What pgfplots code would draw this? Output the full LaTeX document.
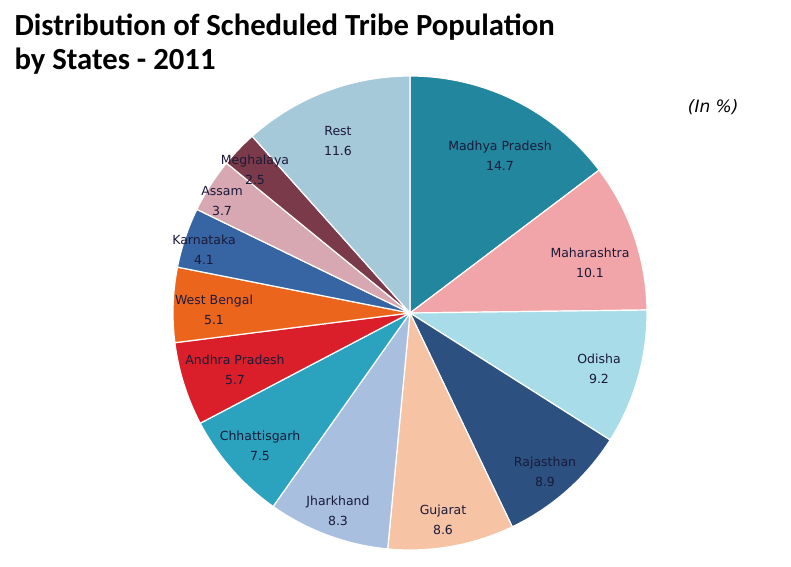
\documentclass[border=0pt]{standalone}
\usepackage{pgfplots}
\pgfplotsset{compat=1.18}
\usepackage{pgfplotstable}
\usepackage{fontspec}
\setmainfont{DejaVu Sans}
\newfontfamily\titlefont{Carlito}

\definecolor{cMP}{HTML}{21869E}
\definecolor{cMH}{HTML}{F2A5A8}
\definecolor{cOD}{HTML}{A8DCE9}
\definecolor{cRJ}{HTML}{2C5080}
\definecolor{cGJ}{HTML}{F6C3A4}
\definecolor{cJH}{HTML}{A8BFDF}
\definecolor{cCG}{HTML}{2BA3BF}
\definecolor{cAP}{HTML}{DB1F2A}
\definecolor{cWB}{HTML}{EB661C}
\definecolor{cKA}{HTML}{3764A2}
\definecolor{cAS}{HTML}{D8A8B2}
\definecolor{cML}{HTML}{7B3A49}
\definecolor{cRE}{HTML}{A6C9D9}
\definecolor{labtext}{HTML}{1A1A3A}

% share of ST population (%), slice colour, label offset from the centre
\pgfplotstableread[col sep=comma]{
state,value,col,dx,dy
Madhya Pradesh,14.7,cMP,90,157
Maharashtra,10.1,cMH,180,50
Odisha,9.2,cOD,189,-56
Rajasthan,8.9,cRJ,135,-159
Gujarat,8.6,cGJ,33,-207
Jharkhand,8.3,cJH,-72,-198
Chhattisgarh,7.5,cCG,-150,-133
Andhra Pradesh,5.7,cAP,-175,-57
West Bengal,5.1,cWB,-196,3
Karnataka,4.1,cKA,-206,63
Assam,3.7,cAS,-188,112
Meghalaya,2.5,cML,-155,143
Rest,11.6,cRE,-72,172
}\piedata

\newcommand\cx{410}
\newcommand\cy{253}
\newcommand\R{237}

% build the slices and labels, clockwise from 12 o'clock
\gdef\pieslices{}
\gdef\pielabels{}
\xdef\cum{90}
\pgfplotstablegetrowsof{\piedata}
\pgfmathtruncatemacro\nrows{\pgfplotsretval-1}
\foreach \i in {0,...,\nrows}{
  \pgfplotstablegetelem{\i}{value}\of\piedata \let\v\pgfplotsretval
  \pgfplotstablegetelem{\i}{col}\of\piedata \let\c\pgfplotsretval
  \pgfplotstablegetelem{\i}{state}\of\piedata \let\s\pgfplotsretval
  \pgfplotstablegetelem{\i}{dx}\of\piedata \let\ldx\pgfplotsretval
  \pgfplotstablegetelem{\i}{dy}\of\piedata \let\ldy\pgfplotsretval
  \pgfmathsetmacro\a{\cum}
  \pgfmathsetmacro\b{\cum-3.6*\v}
  \pgfmathsetmacro\px{\cx+\R*cos(\a)}
  \pgfmathsetmacro\py{\cy+\R*sin(\a)}
  \pgfmathsetmacro\lx{\cx+\ldx}
  \pgfmathsetmacro\ly{\cy+\ldy}
  \xdef\pieslices{\unexpanded\expandafter{\pieslices}%
    \noexpand\fill[\c,draw=white,line width=1.2pt,line join=round]
      (axis cs:\cx,\cy) -- (axis cs:\px,\py)
      arc[start angle=\a,end angle=\b,radius=\R pt] -- cycle;}
  \xdef\pielabels{\unexpanded\expandafter{\pielabels}%
    \noexpand\node[align=center,text=labtext,
      font=\noexpand\fontsize{12.5}{20}\noexpand\selectfont]
      at (axis cs:\lx,\ly) {\s\noexpand\\\v};}
  \xdef\cum{\b}
}

\begin{document}
\begin{tikzpicture}
\begin{axis}[
    width=791pt, height=566pt,
    scale only axis,
    xmin=0, xmax=791, ymin=0, ymax=566,
    hide axis,
    clip=false,
]
\path (rel axis cs:0,0) rectangle (rel axis cs:1,1);
\pieslices
\pielabels
\node[anchor=base west, font=\titlefont\bfseries\fontsize{30.7}{38}\selectfont]
  at (axis cs:11,530) {Distribution of Scheduled Tribe Population};
\node[anchor=base west, font=\titlefont\bfseries\fontsize{30.7}{38}\selectfont]
  at (axis cs:11,496) {by States - 2011};
\node[anchor=base east, font=\itshape\fontsize{17}{20}\selectfont]
  at (axis cs:742,453) {(In \%)};
\end{axis}
\end{tikzpicture}
\end{document}
